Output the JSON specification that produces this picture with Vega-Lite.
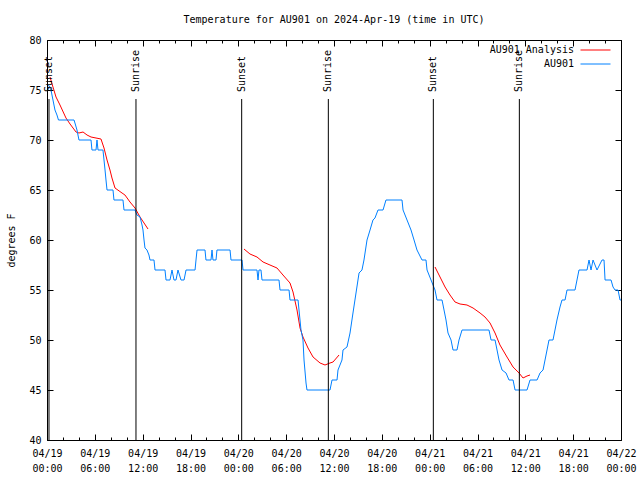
{
  "$schema": "https://vega.github.io/schema/vega-lite/v6.json",
  "width": 574,
  "height": 400,
  "autosize": "none",
  "padding": {"left": 47, "top": 40, "right": 19, "bottom": 40},
  "title": {"text": "Temperature for AU901 on 2024-Apr-19 (time in UTC)", "font": "DejaVu Sans Mono", "fontSize": 10, "fontWeight": "normal", "color": "black", "offset": 10},
  "datasets": {
    "events": [
      {"hour": 0.25, "label": "Sunset"},
      {"hour": 11.16, "label": "Sunrise"},
      {"hour": 24.42, "label": "Sunset"},
      {"hour": 35.29, "label": "Sunrise"},
      {"hour": 48.46, "label": "Sunset"},
      {"hour": 59.25, "label": "Sunrise"}
    ],
    "readings": [
      {"series": "AU901 Analysis", "seg": "r1", "hour": 0.38, "temp": 76.3},
      {"series": "AU901 Analysis", "seg": "r1", "hour": 0.75, "temp": 75.3},
      {"series": "AU901 Analysis", "seg": "r1", "hour": 1.13, "temp": 74.3},
      {"series": "AU901 Analysis", "seg": "r1", "hour": 1.63, "temp": 73.5},
      {"series": "AU901 Analysis", "seg": "r1", "hour": 2.38, "temp": 72.2},
      {"series": "AU901 Analysis", "seg": "r1", "hour": 2.89, "temp": 71.6},
      {"series": "AU901 Analysis", "seg": "r1", "hour": 3.64, "temp": 70.8},
      {"series": "AU901 Analysis", "seg": "r1", "hour": 4.01, "temp": 70.7},
      {"series": "AU901 Analysis", "seg": "r1", "hour": 4.52, "temp": 70.8},
      {"series": "AU901 Analysis", "seg": "r1", "hour": 5.02, "temp": 70.5},
      {"series": "AU901 Analysis", "seg": "r1", "hour": 5.52, "temp": 70.3},
      {"series": "AU901 Analysis", "seg": "r1", "hour": 6.77, "temp": 70.1},
      {"series": "AU901 Analysis", "seg": "r1", "hour": 7.15, "temp": 69.2},
      {"series": "AU901 Analysis", "seg": "r1", "hour": 7.53, "temp": 68.0},
      {"series": "AU901 Analysis", "seg": "r1", "hour": 7.90, "temp": 67.0},
      {"series": "AU901 Analysis", "seg": "r1", "hour": 8.15, "temp": 66.2},
      {"series": "AU901 Analysis", "seg": "r1", "hour": 8.53, "temp": 65.2},
      {"series": "AU901 Analysis", "seg": "r1", "hour": 9.41, "temp": 64.7},
      {"series": "AU901 Analysis", "seg": "r1", "hour": 9.78, "temp": 64.5},
      {"series": "AU901 Analysis", "seg": "r1", "hour": 10.41, "temp": 63.8},
      {"series": "AU901 Analysis", "seg": "r1", "hour": 11.04, "temp": 63.2},
      {"series": "AU901 Analysis", "seg": "r1", "hour": 11.67, "temp": 62.3},
      {"series": "AU901 Analysis", "seg": "r1", "hour": 12.67, "temp": 61.1},
      {"series": "AU901 Analysis", "seg": "r2", "hour": 24.71, "temp": 59.1},
      {"series": "AU901 Analysis", "seg": "r2", "hour": 25.46, "temp": 58.6},
      {"series": "AU901 Analysis", "seg": "r2", "hour": 26.34, "temp": 58.3},
      {"series": "AU901 Analysis", "seg": "r2", "hour": 27.10, "temp": 57.8},
      {"series": "AU901 Analysis", "seg": "r2", "hour": 27.97, "temp": 57.5},
      {"series": "AU901 Analysis", "seg": "r2", "hour": 28.85, "temp": 57.2},
      {"series": "AU901 Analysis", "seg": "r2", "hour": 29.60, "temp": 56.5},
      {"series": "AU901 Analysis", "seg": "r2", "hour": 30.48, "temp": 55.7},
      {"series": "AU901 Analysis", "seg": "r2", "hour": 30.86, "temp": 54.8},
      {"series": "AU901 Analysis", "seg": "r2", "hour": 31.36, "temp": 53.0},
      {"series": "AU901 Analysis", "seg": "r2", "hour": 31.74, "temp": 51.2},
      {"series": "AU901 Analysis", "seg": "r2", "hour": 32.11, "temp": 50.3},
      {"series": "AU901 Analysis", "seg": "r2", "hour": 32.74, "temp": 49.2},
      {"series": "AU901 Analysis", "seg": "r2", "hour": 33.37, "temp": 48.3},
      {"series": "AU901 Analysis", "seg": "r2", "hour": 34.25, "temp": 47.7},
      {"series": "AU901 Analysis", "seg": "r2", "hour": 34.87, "temp": 47.5},
      {"series": "AU901 Analysis", "seg": "r2", "hour": 35.50, "temp": 47.7},
      {"series": "AU901 Analysis", "seg": "r2", "hour": 35.88, "temp": 47.8},
      {"series": "AU901 Analysis", "seg": "r2", "hour": 36.63, "temp": 48.5},
      {"series": "AU901 Analysis", "seg": "r3", "hour": 48.67, "temp": 57.3},
      {"series": "AU901 Analysis", "seg": "r3", "hour": 49.30, "temp": 56.3},
      {"series": "AU901 Analysis", "seg": "r3", "hour": 49.93, "temp": 55.3},
      {"series": "AU901 Analysis", "seg": "r3", "hour": 50.55, "temp": 54.5},
      {"series": "AU901 Analysis", "seg": "r3", "hour": 51.18, "temp": 53.8},
      {"series": "AU901 Analysis", "seg": "r3", "hour": 51.81, "temp": 53.6},
      {"series": "AU901 Analysis", "seg": "r3", "hour": 52.68, "temp": 53.5},
      {"series": "AU901 Analysis", "seg": "r3", "hour": 53.44, "temp": 53.2},
      {"series": "AU901 Analysis", "seg": "r3", "hour": 54.32, "temp": 52.7},
      {"series": "AU901 Analysis", "seg": "r3", "hour": 54.94, "temp": 52.3},
      {"series": "AU901 Analysis", "seg": "r3", "hour": 55.57, "temp": 51.7},
      {"series": "AU901 Analysis", "seg": "r3", "hour": 56.20, "temp": 50.7},
      {"series": "AU901 Analysis", "seg": "r3", "hour": 56.82, "temp": 49.5},
      {"series": "AU901 Analysis", "seg": "r3", "hour": 57.70, "temp": 48.3},
      {"series": "AU901 Analysis", "seg": "r3", "hour": 58.46, "temp": 47.3},
      {"series": "AU901 Analysis", "seg": "r3", "hour": 59.21, "temp": 46.7},
      {"series": "AU901 Analysis", "seg": "r3", "hour": 59.71, "temp": 46.2},
      {"series": "AU901 Analysis", "seg": "r3", "hour": 60.21, "temp": 46.4},
      {"series": "AU901 Analysis", "seg": "r3", "hour": 60.59, "temp": 46.5},
      {"series": "AU901", "seg": "b", "hour": 0.19, "temp": 75.5},
      {"series": "AU901", "seg": "b", "hour": 0.50, "temp": 75},
      {"series": "AU901", "seg": "b", "hour": 0.75, "temp": 74},
      {"series": "AU901", "seg": "b", "hour": 1.00, "temp": 73},
      {"series": "AU901", "seg": "b", "hour": 1.25, "temp": 72.5},
      {"series": "AU901", "seg": "b", "hour": 1.44, "temp": 72},
      {"series": "AU901", "seg": "b", "hour": 3.39, "temp": 72},
      {"series": "AU901", "seg": "b", "hour": 3.58, "temp": 71.5},
      {"series": "AU901", "seg": "b", "hour": 3.76, "temp": 71},
      {"series": "AU901", "seg": "b", "hour": 4.01, "temp": 70},
      {"series": "AU901", "seg": "b", "hour": 5.52, "temp": 70},
      {"series": "AU901", "seg": "b", "hour": 5.64, "temp": 69},
      {"series": "AU901", "seg": "b", "hour": 6.15, "temp": 69},
      {"series": "AU901", "seg": "b", "hour": 6.27, "temp": 70},
      {"series": "AU901", "seg": "b", "hour": 6.40, "temp": 69},
      {"series": "AU901", "seg": "b", "hour": 7.02, "temp": 69},
      {"series": "AU901", "seg": "b", "hour": 7.15, "temp": 68},
      {"series": "AU901", "seg": "b", "hour": 7.28, "temp": 67},
      {"series": "AU901", "seg": "b", "hour": 7.40, "temp": 66},
      {"series": "AU901", "seg": "b", "hour": 7.53, "temp": 65},
      {"series": "AU901", "seg": "b", "hour": 8.28, "temp": 65},
      {"series": "AU901", "seg": "b", "hour": 8.40, "temp": 64},
      {"series": "AU901", "seg": "b", "hour": 9.53, "temp": 64},
      {"series": "AU901", "seg": "b", "hour": 9.66, "temp": 63},
      {"series": "AU901", "seg": "b", "hour": 11.04, "temp": 63},
      {"series": "AU901", "seg": "b", "hour": 11.29, "temp": 62.5},
      {"series": "AU901", "seg": "b", "hour": 11.67, "temp": 62.3},
      {"series": "AU901", "seg": "b", "hour": 11.92, "temp": 61.5},
      {"series": "AU901", "seg": "b", "hour": 12.04, "temp": 61},
      {"series": "AU901", "seg": "b", "hour": 12.17, "temp": 60},
      {"series": "AU901", "seg": "b", "hour": 12.29, "temp": 59.2},
      {"series": "AU901", "seg": "b", "hour": 12.54, "temp": 59},
      {"series": "AU901", "seg": "b", "hour": 12.79, "temp": 58.5},
      {"series": "AU901", "seg": "b", "hour": 12.92, "temp": 58},
      {"series": "AU901", "seg": "b", "hour": 13.42, "temp": 58},
      {"series": "AU901", "seg": "b", "hour": 13.55, "temp": 57},
      {"series": "AU901", "seg": "b", "hour": 14.80, "temp": 57},
      {"series": "AU901", "seg": "b", "hour": 14.93, "temp": 56},
      {"series": "AU901", "seg": "b", "hour": 15.43, "temp": 56},
      {"series": "AU901", "seg": "b", "hour": 15.68, "temp": 57},
      {"series": "AU901", "seg": "b", "hour": 15.93, "temp": 56},
      {"series": "AU901", "seg": "b", "hour": 16.18, "temp": 56},
      {"series": "AU901", "seg": "b", "hour": 16.43, "temp": 57},
      {"series": "AU901", "seg": "b", "hour": 16.81, "temp": 56},
      {"series": "AU901", "seg": "b", "hour": 17.19, "temp": 56},
      {"series": "AU901", "seg": "b", "hour": 17.44, "temp": 57},
      {"series": "AU901", "seg": "b", "hour": 18.57, "temp": 57},
      {"series": "AU901", "seg": "b", "hour": 18.69, "temp": 58},
      {"series": "AU901", "seg": "b", "hour": 18.82, "temp": 59},
      {"series": "AU901", "seg": "b", "hour": 19.82, "temp": 59},
      {"series": "AU901", "seg": "b", "hour": 19.94, "temp": 58},
      {"series": "AU901", "seg": "b", "hour": 20.57, "temp": 58},
      {"series": "AU901", "seg": "b", "hour": 20.70, "temp": 59},
      {"series": "AU901", "seg": "b", "hour": 20.82, "temp": 58},
      {"series": "AU901", "seg": "b", "hour": 21.20, "temp": 58},
      {"series": "AU901", "seg": "b", "hour": 21.32, "temp": 59},
      {"series": "AU901", "seg": "b", "hour": 22.96, "temp": 59},
      {"series": "AU901", "seg": "b", "hour": 23.08, "temp": 58},
      {"series": "AU901", "seg": "b", "hour": 24.46, "temp": 58},
      {"series": "AU901", "seg": "b", "hour": 24.59, "temp": 57},
      {"series": "AU901", "seg": "b", "hour": 26.34, "temp": 57},
      {"series": "AU901", "seg": "b", "hour": 26.47, "temp": 56},
      {"series": "AU901", "seg": "b", "hour": 26.59, "temp": 57},
      {"series": "AU901", "seg": "b", "hour": 26.84, "temp": 57},
      {"series": "AU901", "seg": "b", "hour": 26.97, "temp": 56},
      {"series": "AU901", "seg": "b", "hour": 29.10, "temp": 56},
      {"series": "AU901", "seg": "b", "hour": 29.23, "temp": 55},
      {"series": "AU901", "seg": "b", "hour": 30.36, "temp": 55},
      {"series": "AU901", "seg": "b", "hour": 30.48, "temp": 54},
      {"series": "AU901", "seg": "b", "hour": 31.49, "temp": 54},
      {"series": "AU901", "seg": "b", "hour": 31.61, "temp": 53},
      {"series": "AU901", "seg": "b", "hour": 31.86, "temp": 51},
      {"series": "AU901", "seg": "b", "hour": 32.11, "temp": 50},
      {"series": "AU901", "seg": "b", "hour": 32.24, "temp": 48},
      {"series": "AU901", "seg": "b", "hour": 32.49, "temp": 45.7},
      {"series": "AU901", "seg": "b", "hour": 32.61, "temp": 45},
      {"series": "AU901", "seg": "b", "hour": 35.50, "temp": 45},
      {"series": "AU901", "seg": "b", "hour": 35.75, "temp": 46},
      {"series": "AU901", "seg": "b", "hour": 36.38, "temp": 46},
      {"series": "AU901", "seg": "b", "hour": 36.50, "temp": 47},
      {"series": "AU901", "seg": "b", "hour": 37.00, "temp": 48},
      {"series": "AU901", "seg": "b", "hour": 37.13, "temp": 49},
      {"series": "AU901", "seg": "b", "hour": 37.63, "temp": 49.3},
      {"series": "AU901", "seg": "b", "hour": 38.01, "temp": 50.7},
      {"series": "AU901", "seg": "b", "hour": 38.38, "temp": 52.7},
      {"series": "AU901", "seg": "b", "hour": 38.76, "temp": 54.7},
      {"series": "AU901", "seg": "b", "hour": 39.14, "temp": 56.7},
      {"series": "AU901", "seg": "b", "hour": 39.51, "temp": 57},
      {"series": "AU901", "seg": "b", "hour": 39.76, "temp": 58},
      {"series": "AU901", "seg": "b", "hour": 40.14, "temp": 60},
      {"series": "AU901", "seg": "b", "hour": 40.52, "temp": 61},
      {"series": "AU901", "seg": "b", "hour": 40.89, "temp": 62},
      {"series": "AU901", "seg": "b", "hour": 41.14, "temp": 62.2},
      {"series": "AU901", "seg": "b", "hour": 41.52, "temp": 63},
      {"series": "AU901", "seg": "b", "hour": 42.15, "temp": 63},
      {"series": "AU901", "seg": "b", "hour": 42.52, "temp": 64},
      {"series": "AU901", "seg": "b", "hour": 44.53, "temp": 64},
      {"series": "AU901", "seg": "b", "hour": 44.66, "temp": 63},
      {"series": "AU901", "seg": "b", "hour": 45.16, "temp": 62},
      {"series": "AU901", "seg": "b", "hour": 45.66, "temp": 61},
      {"series": "AU901", "seg": "b", "hour": 46.04, "temp": 60},
      {"series": "AU901", "seg": "b", "hour": 46.41, "temp": 59},
      {"series": "AU901", "seg": "b", "hour": 47.04, "temp": 58},
      {"series": "AU901", "seg": "b", "hour": 47.54, "temp": 58},
      {"series": "AU901", "seg": "b", "hour": 47.67, "temp": 57},
      {"series": "AU901", "seg": "b", "hour": 48.17, "temp": 56},
      {"series": "AU901", "seg": "b", "hour": 48.67, "temp": 55},
      {"series": "AU901", "seg": "b", "hour": 48.92, "temp": 54},
      {"series": "AU901", "seg": "b", "hour": 49.55, "temp": 54},
      {"series": "AU901", "seg": "b", "hour": 49.80, "temp": 53},
      {"series": "AU901", "seg": "b", "hour": 50.05, "temp": 52},
      {"series": "AU901", "seg": "b", "hour": 50.30, "temp": 50.7},
      {"series": "AU901", "seg": "b", "hour": 50.68, "temp": 50},
      {"series": "AU901", "seg": "b", "hour": 50.93, "temp": 49},
      {"series": "AU901", "seg": "b", "hour": 51.43, "temp": 49},
      {"series": "AU901", "seg": "b", "hour": 51.68, "temp": 50},
      {"series": "AU901", "seg": "b", "hour": 52.06, "temp": 51},
      {"series": "AU901", "seg": "b", "hour": 55.44, "temp": 51},
      {"series": "AU901", "seg": "b", "hour": 55.70, "temp": 50},
      {"series": "AU901", "seg": "b", "hour": 56.20, "temp": 50},
      {"series": "AU901", "seg": "b", "hour": 56.45, "temp": 49},
      {"series": "AU901", "seg": "b", "hour": 56.70, "temp": 48},
      {"series": "AU901", "seg": "b", "hour": 57.08, "temp": 47},
      {"series": "AU901", "seg": "b", "hour": 57.58, "temp": 46.7},
      {"series": "AU901", "seg": "b", "hour": 57.95, "temp": 46},
      {"series": "AU901", "seg": "b", "hour": 58.46, "temp": 46},
      {"series": "AU901", "seg": "b", "hour": 58.71, "temp": 45},
      {"series": "AU901", "seg": "b", "hour": 60.21, "temp": 45},
      {"series": "AU901", "seg": "b", "hour": 60.59, "temp": 46},
      {"series": "AU901", "seg": "b", "hour": 61.47, "temp": 46},
      {"series": "AU901", "seg": "b", "hour": 61.84, "temp": 46.7},
      {"series": "AU901", "seg": "b", "hour": 62.22, "temp": 47},
      {"series": "AU901", "seg": "b", "hour": 62.72, "temp": 49},
      {"series": "AU901", "seg": "b", "hour": 62.97, "temp": 50},
      {"series": "AU901", "seg": "b", "hour": 63.47, "temp": 50},
      {"series": "AU901", "seg": "b", "hour": 63.72, "temp": 51},
      {"series": "AU901", "seg": "b", "hour": 63.97, "temp": 52},
      {"series": "AU901", "seg": "b", "hour": 64.35, "temp": 53.3},
      {"series": "AU901", "seg": "b", "hour": 64.60, "temp": 54},
      {"series": "AU901", "seg": "b", "hour": 64.98, "temp": 54},
      {"series": "AU901", "seg": "b", "hour": 65.23, "temp": 55},
      {"series": "AU901", "seg": "b", "hour": 66.23, "temp": 55},
      {"series": "AU901", "seg": "b", "hour": 66.48, "temp": 56},
      {"series": "AU901", "seg": "b", "hour": 66.73, "temp": 57},
      {"series": "AU901", "seg": "b", "hour": 67.74, "temp": 57},
      {"series": "AU901", "seg": "b", "hour": 67.99, "temp": 58},
      {"series": "AU901", "seg": "b", "hour": 68.24, "temp": 57},
      {"series": "AU901", "seg": "b", "hour": 68.49, "temp": 58},
      {"series": "AU901", "seg": "b", "hour": 68.99, "temp": 57},
      {"series": "AU901", "seg": "b", "hour": 69.62, "temp": 58},
      {"series": "AU901", "seg": "b", "hour": 69.87, "temp": 58},
      {"series": "AU901", "seg": "b", "hour": 70.00, "temp": 56},
      {"series": "AU901", "seg": "b", "hour": 70.75, "temp": 56},
      {"series": "AU901", "seg": "b", "hour": 71.00, "temp": 55.3},
      {"series": "AU901", "seg": "b", "hour": 71.25, "temp": 55},
      {"series": "AU901", "seg": "b", "hour": 71.63, "temp": 55},
      {"series": "AU901", "seg": "b", "hour": 71.88, "temp": 54},
      {"series": "AU901", "seg": "b", "hour": 72.00, "temp": 54}
    ]
  },
  "layer": [
    {
      "data": {"name": "readings"},
      "mark": {"type": "line", "strokeWidth": 1, "interpolate": "linear"},
      "encoding": {
        "x": {"field": "hour", "type": "quantitative",
              "scale": {"domain": [0, 72], "nice": false, "zero": false},
              "axis": {"orient": "bottom", "values": [0, 6, 12, 18, 24, 30, 36, 42, 48, 54, 60, 66, 72], "tickSize": -6, "labelPadding": 14, "labelLineHeight": 15, "labelBaseline": "top", "labelFlush": false,
                       "labelExpr": "[utcFormat(utc(2024,3,19) + datum.value*3600000, '%m/%d'), utcFormat(utc(2024,3,19) + datum.value*3600000, '%H:%M')]", "title": null}},
        "y": {"field": "temp", "type": "quantitative",
              "scale": {"domain": [40, 80], "nice": false, "zero": false},
              "axis": {"orient": "left", "values": [40, 45, 50, 55, 60, 65, 70, 75, 80], "tickSize": -6, "labelPadding": 12, "title": "degrees F", "titlePadding": 12}},
        "color": {"field": "series", "type": "nominal",
                  "scale": {"domain": ["AU901 Analysis", "AU901"], "range": ["#ff0000", "#0080ff"]},
                  "legend": {"title": null, "orient": "none", "legendX": 543, "legendY": 4.5, "padding": 0, "symbolType": "M-3,0H3", "symbolSize": 100, "symbolStrokeWidth": 1, "labelAlign": "right", "labelOffset": -27, "rowPadding": 3, "labelFontSize": 10, "labelFont": "DejaVu Sans Mono", "labelColor": "black"}},
        "detail": {"field": "seg"}
      }
    },
    {
      "data": {"name": "events"},
      "mark": {"type": "rule", "color": "black", "strokeWidth": 1},
      "encoding": {
        "x": {"field": "hour", "type": "quantitative",
              "axis": {"orient": "top", "values": [0, 6, 12, 18, 24, 30, 36, 42, 48, 54, 60, 66, 72], "tickSize": -6, "labels": false, "title": null}},
        "y": {"datum": 74.1, "type": "quantitative",
              "axis": {"orient": "right", "values": [40, 45, 50, 55, 60, 65, 70, 75, 80], "tickSize": -6, "labels": false, "title": null}},
        "y2": {"datum": 40}
      }
    },
    {
      "data": {"name": "events"},
      "mark": {"type": "text", "angle": 270, "align": "left", "baseline": "middle", "font": "DejaVu Sans Mono", "fontSize": 10, "color": "black"},
      "encoding": {
        "x": {"field": "hour", "type": "quantitative",
              "axis": {"orient": "bottom", "values": [0, 2, 4, 6, 8, 10, 12, 14, 16, 18, 20, 22, 24, 26, 28, 30, 32, 34, 36, 38, 40, 42, 44, 46, 48, 50, 52, 54, 56, 58, 60, 62, 64, 66, 68, 70, 72], "tickSize": -3, "labels": false, "title": null}},
        "y": {"datum": 74.8, "type": "quantitative", "axis": null},
        "text": {"field": "label"}
      }
    },
    {
      "data": {"name": "events"},
      "mark": {"type": "tick", "opacity": 0},
      "encoding": {
        "x": {"field": "hour", "type": "quantitative",
              "axis": {"orient": "top", "values": [0, 2, 4, 6, 8, 10, 12, 14, 16, 18, 20, 22, 24, 26, 28, 30, 32, 34, 36, 38, 40, 42, 44, 46, 48, 50, 52, 54, 56, 58, 60, 62, 64, 66, 68, 70, 72], "tickSize": -3, "labels": false, "title": null}},
        "y": {"datum": 60, "type": "quantitative", "axis": null}
      }
    }
  ],
  "resolve": {"axis": {"x": "independent", "y": "independent"}},
  "config": {
    "font": "DejaVu Sans Mono",
    "view": {"stroke": "black", "strokeWidth": 1},
    "axis": {"domain": false, "grid": false, "tickColor": "black", "tickWidth": 1, "labelFont": "DejaVu Sans Mono", "labelFontSize": 10, "labelColor": "black", "titleFont": "DejaVu Sans Mono", "titleFontSize": 10, "titleFontWeight": "normal", "titleColor": "black"},
    "legend": {"labelFont": "DejaVu Sans Mono", "labelFontSize": 10}
  }
}
